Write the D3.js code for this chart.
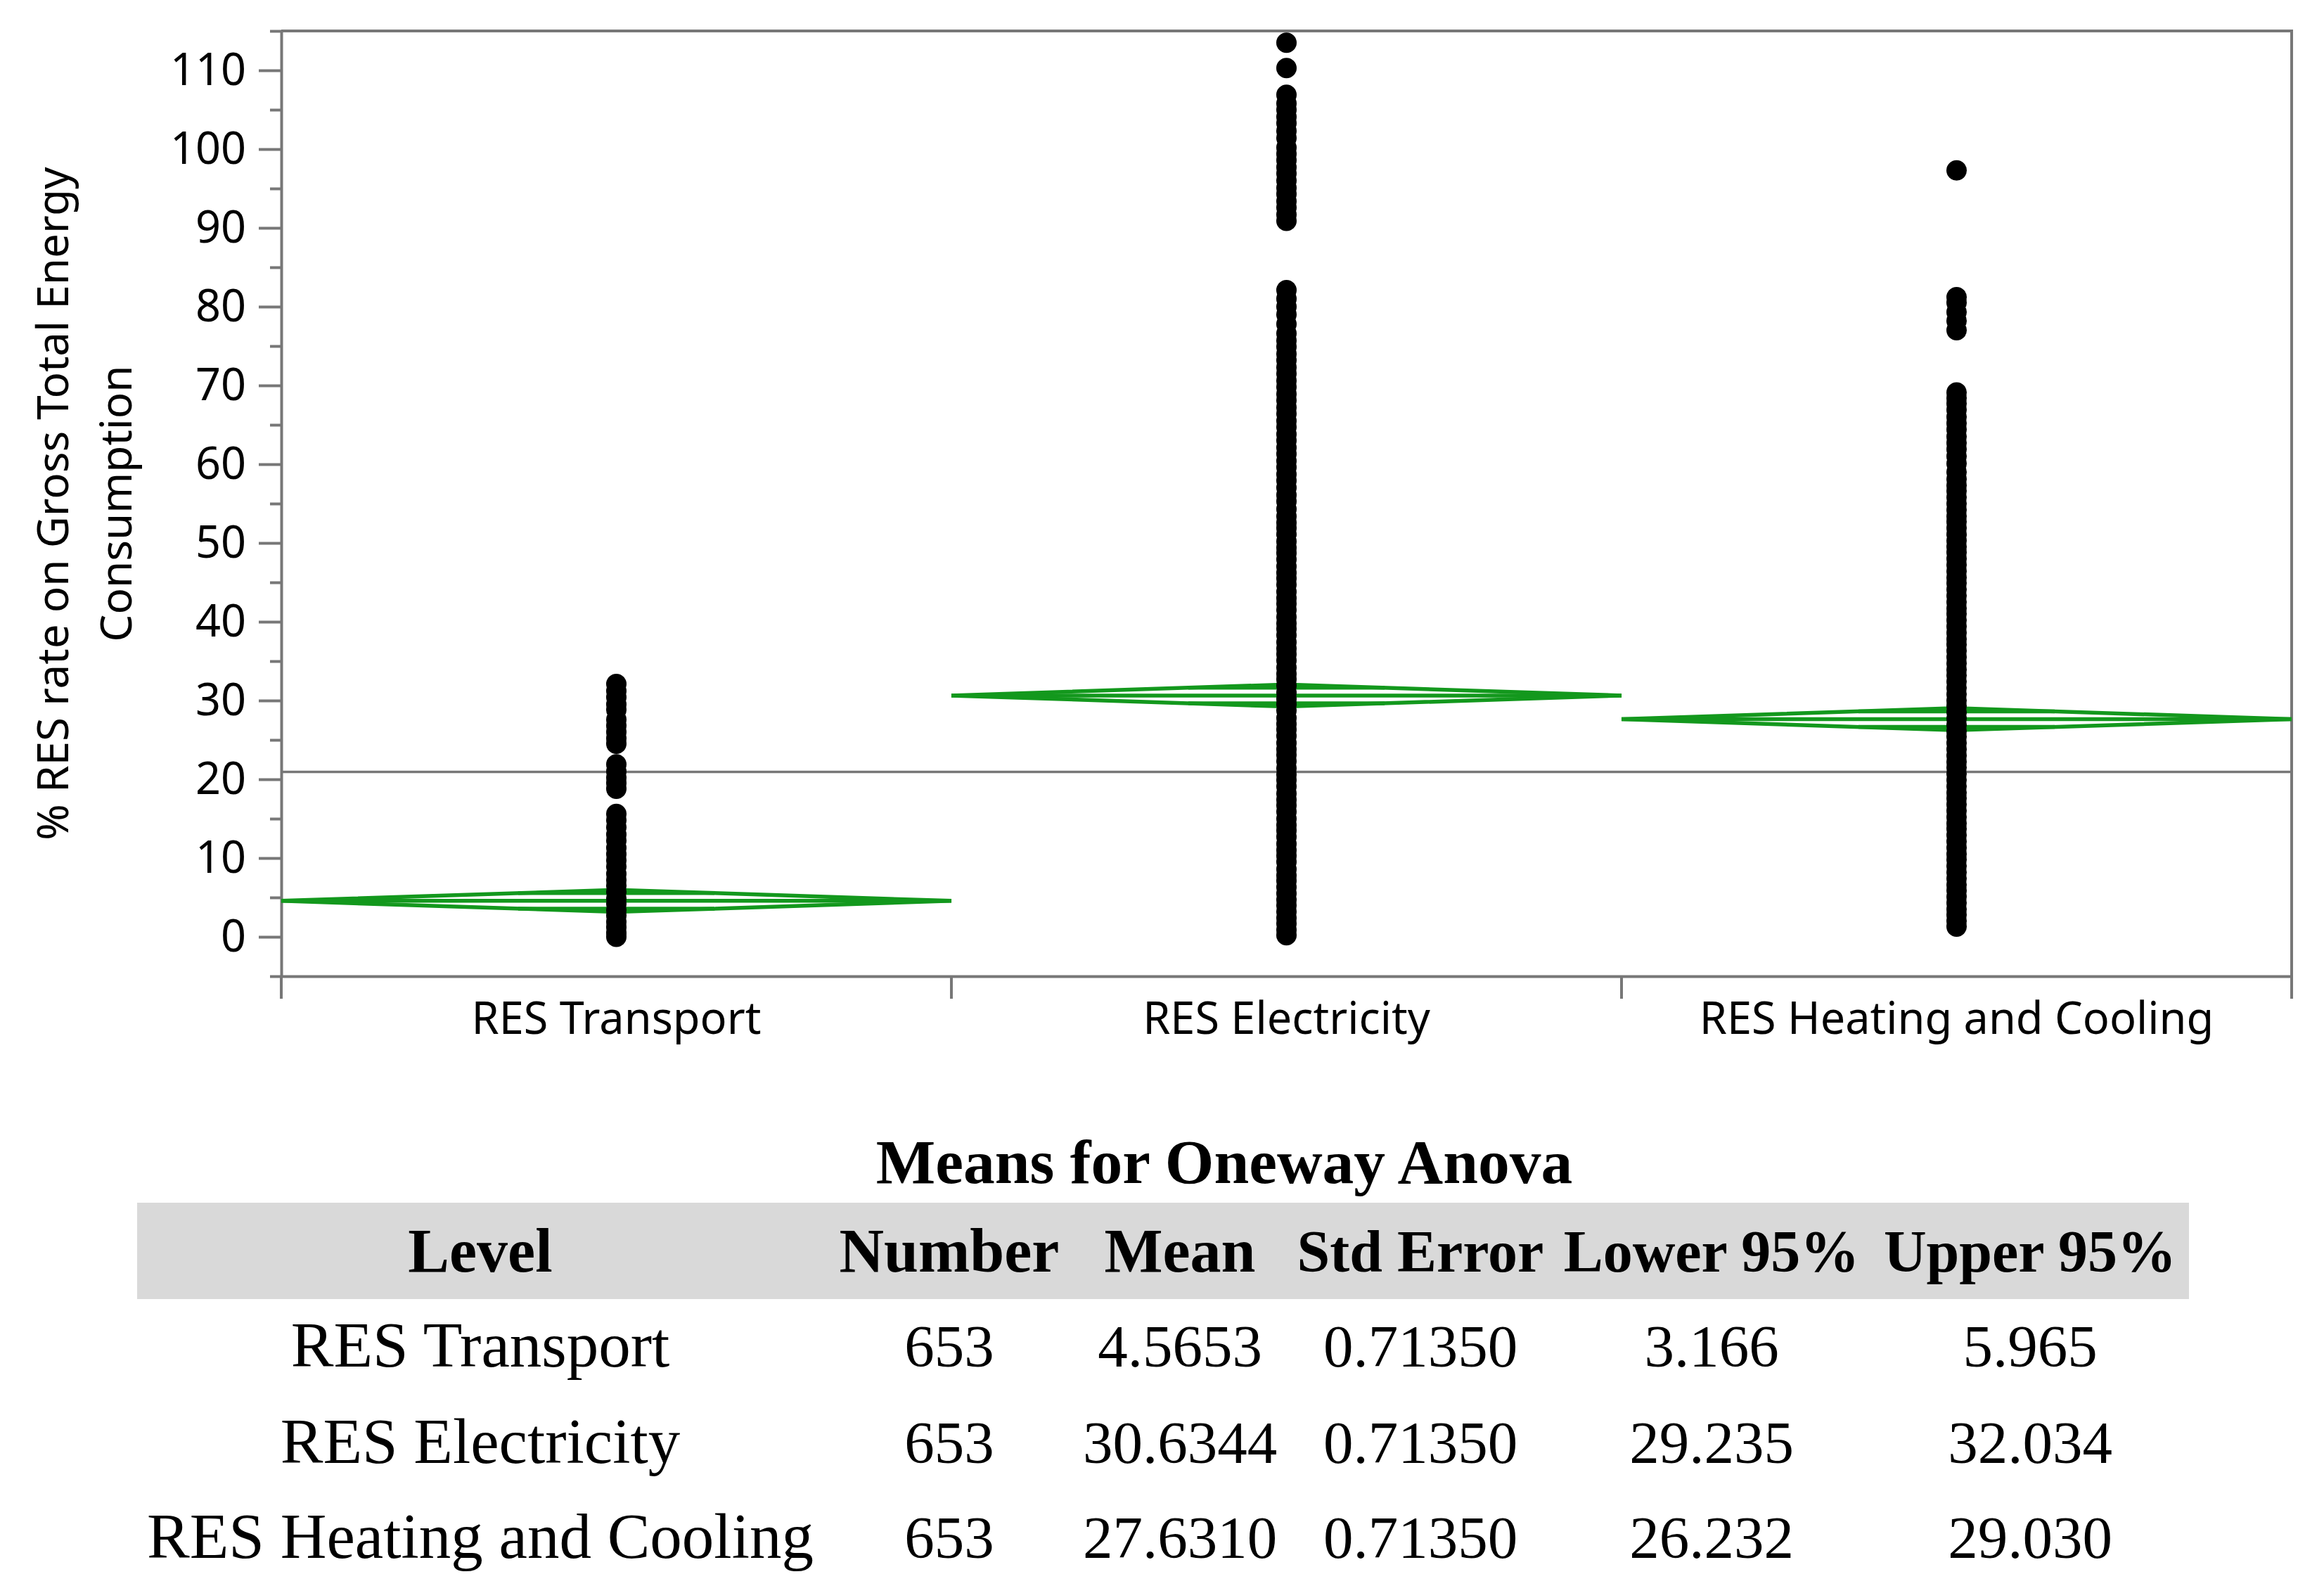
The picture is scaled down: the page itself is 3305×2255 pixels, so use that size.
<!DOCTYPE html>
<html>
<head>
<meta charset="utf-8">
<script src="https://cdn.jsdelivr.net/npm/d3@7"></script>
<style>
  body { margin: 0; background: #fff; }
  .axis text { font-family: "Noto Sans", sans-serif; font-size: 63px; fill: #000; }
  .axis path, .axis line { stroke: #777; stroke-width: 4; }
  .ytitle { font-family: "Noto Sans", sans-serif; font-size: 62px; fill: #000; }
  .tbl { font-family: "Liberation Serif", serif; fill: #000; }
</style>
</head>
<body>
<div id="vis"></div>
<script>
// Frame size
const FRAME_WIDTH = 3305;
const FRAME_HEIGHT = 2255;

// plot area
const PLOT = {left: 400, right: 3259, top: 44, bottom: 1388};

// groups and Oneway Anova summary
const LEVELS = ["RES Transport", "RES Electricity", "RES Heating and Cooling"];
const NUMBER = [653, 653, 653];
const MEANS = [4.5653, 30.6344, 27.6310];
const STD_ERR = [0.71350, 0.71350, 0.71350];
const LOWER95 = [3.166, 29.235, 26.232];
const UPPER95 = [5.965, 32.034, 29.030];

// tick labels
const Y_TICKS = [0, 10, 20, 30, 40, 50, 60, 70, 80, 90, 100, 110];
const Y_MINOR = [-5, 5, 15, 25, 35, 45, 55, 65, 75, 85, 95, 105, 115];

// points (one column per group)
const TRANSPORT_VALUES = [0.0, 0.5, 1.2, 1.9, 2.7, 3.4, 4.2, 4.9, 5.7, 6.5, 7.2, 8.0, 8.9, 9.7,
  10.5, 11.3, 12.2, 13.0, 13.9, 14.8, 15.6,
  18.8, 19.5, 20.2, 21.0, 21.9,
  24.5, 25.2, 26.0, 26.8, 27.6, 28.8, 29.5, 30.4, 31.2, 32.1];

const ELECTRICITY_VALUES = [0.2, 0.9, 1.7, 2.4, 3.2, 4.0, 4.7, 5.5, 6.3, 7.1, 7.8, 8.6, 9.5,
  10.3, 11.0, 11.8, 12.7, 13.5, 14.2, 15.0, 15.9, 16.7, 17.4, 18.2, 19.1, 19.9,
  20.6, 21.4, 22.3, 23.1, 23.8, 24.6, 25.5, 26.3, 27.0, 27.8, 28.7, 29.5,
  30.2, 31.0, 31.9, 32.7, 33.4, 34.2, 35.1, 35.9, 36.6, 37.4, 38.3, 39.1, 39.8,
  40.6, 41.5, 42.3, 43.0, 43.8, 44.7, 45.5, 46.2, 47.0, 47.9, 48.7, 49.4,
  50.2, 51.1, 51.9, 52.6, 53.4, 54.3, 55.3, 56.1, 57.0, 57.9, 58.7, 59.6,
  60.4, 61.3, 62.1, 63.0, 63.8, 64.7, 65.5, 66.4, 67.2, 68.1, 68.9, 69.8,
  70.6, 71.5, 72.3, 73.2, 74.0, 74.9, 75.7, 76.6, 77.8, 79.0, 80.0, 81.0, 82.1,
  90.9, 91.7, 92.6, 93.4, 94.3, 95.1, 96.0, 96.9, 97.7, 98.6, 99.4,
  100.2, 101.4, 102.3, 103.3, 104.1, 105.0, 105.8, 106.9, 110.3, 113.5];

const HEATING_VALUES = [1.3, 2.0, 2.8, 3.5, 4.3, 5.1, 5.9, 6.6, 7.4, 8.2, 9.0, 9.8,
  10.5, 11.3, 12.1, 12.9, 13.7, 14.4, 15.2, 16.0, 16.8, 17.6, 18.3, 19.1, 19.9,
  20.7, 21.5, 22.2, 23.0, 23.8, 24.6, 25.4, 26.1, 26.9, 27.7, 28.5, 29.3,
  30.0, 30.8, 31.6, 32.4, 33.2, 33.9, 34.7, 35.5, 36.3, 37.1, 37.8, 38.6, 39.4,
  40.2, 41.0, 41.7, 42.5, 43.3, 44.1, 44.9, 45.6, 46.4, 47.2, 48.0, 48.8, 49.5,
  50.3, 51.1, 51.9, 52.7, 53.4, 54.2, 55.0, 55.8, 56.6, 57.3, 58.1, 59.0,
  60.1, 61.0, 61.9, 62.7, 63.5, 64.4, 65.2, 66.0, 66.9, 67.7, 68.4, 69.1,
  77.0, 78.2, 79.3, 80.5, 81.2, 97.3];

const GROUP_VALUES = [TRANSPORT_VALUES, ELECTRICITY_VALUES, HEATING_VALUES];

const GREEN = "#13981d";
const GRAY = "#777";

const FRAME = d3.select("#vis")
                .append("svg")
                  .attr("width", FRAME_WIDTH)
                  .attr("height", FRAME_HEIGHT)
                  .style("background", "#fff");

// scales
const Y_SCALE = d3.scaleLinear()
                  .domain([-5, 115])
                  .range([PLOT.bottom, PLOT.top]);

const X_SCALE = d3.scaleBand()
                  .domain(LEVELS)
                  .range([PLOT.left, PLOT.right])
                  .padding(0);

// minor y ticks
FRAME.append("g")
      .attr("class", "axis")
      .attr("transform", "translate(" + PLOT.left + ",0)")
      .call(d3.axisLeft(Y_SCALE).tickValues(Y_MINOR).tickSize(16).tickFormat(""))
      .call(g => g.select(".domain").remove());

// y axis with labels
FRAME.append("g")
      .attr("class", "axis")
      .attr("transform", "translate(" + PLOT.left + ",0)")
      .call(d3.axisLeft(Y_SCALE).tickValues(Y_TICKS).tickSize(32).tickPadding(18).tickSizeOuter(0));

// top and right border of the frame
FRAME.append("line")
      .attr("x1", PLOT.left).attr("x2", PLOT.right)
      .attr("y1", PLOT.top).attr("y2", PLOT.top)
      .attr("stroke", GRAY).attr("stroke-width", 4);
FRAME.append("line")
      .attr("x1", PLOT.right).attr("x2", PLOT.right)
      .attr("y1", PLOT.top - 2).attr("y2", PLOT.bottom + 32)
      .attr("stroke", GRAY).attr("stroke-width", 4);

// x axis: labels at band centres, ticks at band edges
FRAME.append("g")
      .attr("class", "axis")
      .attr("transform", "translate(0," + PLOT.bottom + ")")
      .call(d3.axisBottom(X_SCALE).tickSize(0).tickPadding(37).tickSizeOuter(0));

const EDGES = LEVELS.map(d => X_SCALE(d)).concat([X_SCALE(LEVELS[2]) + X_SCALE.bandwidth()]);
FRAME.selectAll(".edgetick")
      .data(EDGES)
      .enter()
      .append("line")
        .attr("class", "edgetick")
        .attr("x1", d => d).attr("x2", d => d)
        .attr("y1", PLOT.bottom).attr("y2", PLOT.bottom + 32)
        .attr("stroke", GRAY).attr("stroke-width", 4);

// y title (two lines)
const YTITLE = FRAME.append("text")
      .attr("class", "ytitle")
      .attr("transform", "translate(0," + ((PLOT.top + PLOT.bottom) / 2) + ") rotate(-90)")
      .attr("text-anchor", "middle");
YTITLE.append("tspan").attr("x", 0).attr("y", 97).text("% RES rate on Gross Total Energy");
YTITLE.append("tspan").attr("x", 0).attr("y", 187).text("Consumption");

// grand mean line
const GRAND_MEAN = d3.mean(MEANS);
FRAME.append("line")
      .attr("x1", PLOT.left).attr("x2", PLOT.right)
      .attr("y1", Y_SCALE(GRAND_MEAN)).attr("y2", Y_SCALE(GRAND_MEAN))
      .attr("stroke", GRAY).attr("stroke-width", 3.5);

// means diamonds
const W = X_SCALE.bandwidth();
LEVELS.forEach((lvl, i) => {
  const x0 = X_SCALE(lvl), x1 = x0 + W, xc = x0 + W / 2;
  const g = FRAME.append("g")
                  .attr("fill", "none")
                  .attr("stroke", GREEN)
                  .attr("stroke-width", 5.5);
  const pts = [[x0, MEANS[i]], [xc, UPPER95[i]], [x1, MEANS[i]], [xc, LOWER95[i]]];
  g.append("path")
    .attr("d", d3.line().x(d => d[0]).y(d => Y_SCALE(d[1]))(pts) + "Z");
  g.append("line")
    .attr("x1", x0).attr("x2", x1)
    .attr("y1", Y_SCALE(MEANS[i])).attr("y2", Y_SCALE(MEANS[i]));
  // overlap marks
  const half = (UPPER95[i] - MEANS[i]) / Math.SQRT2;
  const mw = W * (1 - 1 / Math.SQRT2) / 2;
  [MEANS[i] + half, MEANS[i] - half].forEach(v => {
    g.append("line")
      .attr("x1", xc - mw).attr("x2", xc + mw)
      .attr("y1", Y_SCALE(v)).attr("y2", Y_SCALE(v));
  });
});

// points
LEVELS.forEach((lvl, i) => {
  FRAME.selectAll(".pt" + i)
        .data(GROUP_VALUES[i])
        .enter()
        .append("circle")
          .attr("class", "pt" + i)
          .attr("cx", X_SCALE(lvl) + W / 2)
          .attr("cy", d => Y_SCALE(d))
          .attr("r", 14.5)
          .attr("fill", "#000");
});

// ---- Means for Oneway Anova table ----
const COL_X = [683, 1350, 1678, 2020, 2434, 2887];
const HEADERS = ["Level", "Number", "Mean", "Std Error", "Lower 95%", "Upper 95%"];
const ROW_Y = [1943, 2080, 2215];

FRAME.append("text")
      .attr("class", "tbl")
      .attr("x", 1741).attr("y", 1682)
      .attr("text-anchor", "middle")
      .attr("font-weight", "bold")
      .attr("font-size", 89.5)
      .text("Means for Oneway Anova");

FRAME.append("rect")
      .attr("x", 195).attr("y", 1710)
      .attr("width", 3113 - 195).attr("height", 137)
      .attr("fill", "#d9d9d9");

FRAME.selectAll(".hdr")
      .data(HEADERS)
      .enter()
      .append("text")
        .attr("class", "tbl hdr")
        .attr("x", (d, i) => COL_X[i]).attr("y", 1808)
        .attr("text-anchor", "middle")
        .attr("font-weight", "bold")
        .attr("font-size", (d, i) => (i < 3 ? 88 : 84))
        .text(d => d);

const ROWS = LEVELS.map((lvl, i) => [
  lvl,
  String(NUMBER[i]),
  MEANS[i].toFixed(4),
  STD_ERR[i].toFixed(5),
  LOWER95[i].toFixed(3),
  UPPER95[i].toFixed(3)
]);

ROWS.forEach((row, r) => {
  FRAME.selectAll(".row" + r)
        .data(row)
        .enter()
        .append("text")
          .attr("class", "tbl row" + r)
          .attr("x", (d, i) => COL_X[i]).attr("y", ROW_Y[r])
          .attr("text-anchor", "middle")
          .attr("font-size", (d, i) => (i === 0 ? 91 : 85))
          .text(d => d);
});
</script>
</body>
</html>
